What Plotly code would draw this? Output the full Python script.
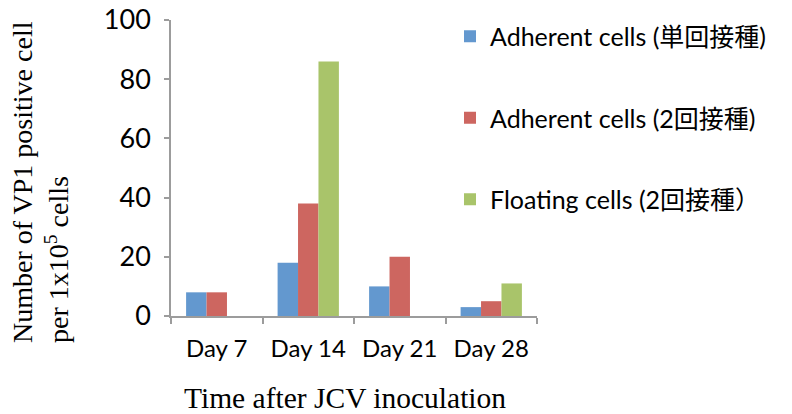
import plotly.graph_objects as go

categories = ["Day 7", "Day 14", "Day 21", "Day 28"]
series_names = ["Adherent cells (単回接種)", "Adherent cells (2回接種)", "Floating cells (2回接種）"]
adherent_single = [8, 18, 10, 3]
adherent_double = [8, 38, 20, 5]
floating_double = [None, 86, None, 11]
colors = ["#6398CF", "#CD6660", "#A9C46A"]
y_ticks = [0, 20, 40, 60, 80, 100]

FONT = "Lato, 'Noto Sans CJK JP', sans-serif"
SERIF = "'Liberation Serif', 'Times New Roman', serif"

fig = go.Figure()
for i, (name, vals) in enumerate(zip(series_names, [adherent_single, adherent_double, floating_double])):
    fig.add_trace(go.Bar(
        x=categories, y=vals, name=name, legendgroup=f"g{i}",
        marker=dict(color=colors[i], line=dict(width=0)),
    ))

W, H = 792, 414
L, T = 171, 20
R = W - 537
B = H - 316
pw, ph = W - L - R, H - T - B


def px_x(X):
    return (X - L) / pw


def px_y(Y):
    return (H - B - Y) / ph


fig.update_layout(
    width=W, height=H,
    margin=dict(l=L, r=R, t=T, b=B, pad=0, autoexpand=False),
    paper_bgcolor="white", plot_bgcolor="white",
    barmode="group", bargap=0.33, bargroupgap=0,
    font=dict(family=FONT, size=22, color="black"),
    showlegend=True,
    legend=dict(
        x=px_x(450), xanchor="left",
        y=px_y(118), yanchor="middle",
        font=dict(family=FONT, size=25, color="black"),
        tracegroupgap=46, traceorder="grouped",
        bgcolor="rgba(0,0,0,0)", itemwidth=30,
    ),
    xaxis=dict(
        showline=True, linecolor="#9c9c9c", linewidth=1.5,
        ticks="outside", tickson="boundaries", ticklen=6, tickcolor="#9c9c9c", tickwidth=1.5,
        tickfont=dict(family=FONT, size=24), showgrid=False, zeroline=False,
        ticklabelstandoff=10,
    ),
    yaxis=dict(
        range=[0, 100], tickvals=y_ticks, showline=True, linecolor="#9c9c9c", linewidth=1.5,
        ticks="outside", ticklen=5, tickcolor="#9c9c9c", tickwidth=1.5,
        tickfont=dict(family=FONT, size=27), showgrid=False, zeroline=False,
        ticklabelstandoff=8, ticklabeloverflow="allow",
    ),
    annotations=[
        dict(
            text="Number of VP1 positive cell<br>per 1x10<sup>5</sup> cells",
            textangle=-90, align="left", showarrow=False,
            xref="paper", yref="paper",
            x=px_x(40), y=px_y(182), xanchor="center", yanchor="middle",
            font=dict(family=SERIF, size=28, color="black"),
        ),
        dict(
            text="Time after JCV inoculation", showarrow=False,
            xref="paper", yref="paper",
            x=px_x(345), y=px_y(398), xanchor="center", yanchor="middle",
            font=dict(family=SERIF, size=29.5, color="black"),
        ),
    ],
)

fig.write_html(
    "out.html",
    config={"displayModeBar": False},
    post_script="document.body.style.margin='0';",
)
